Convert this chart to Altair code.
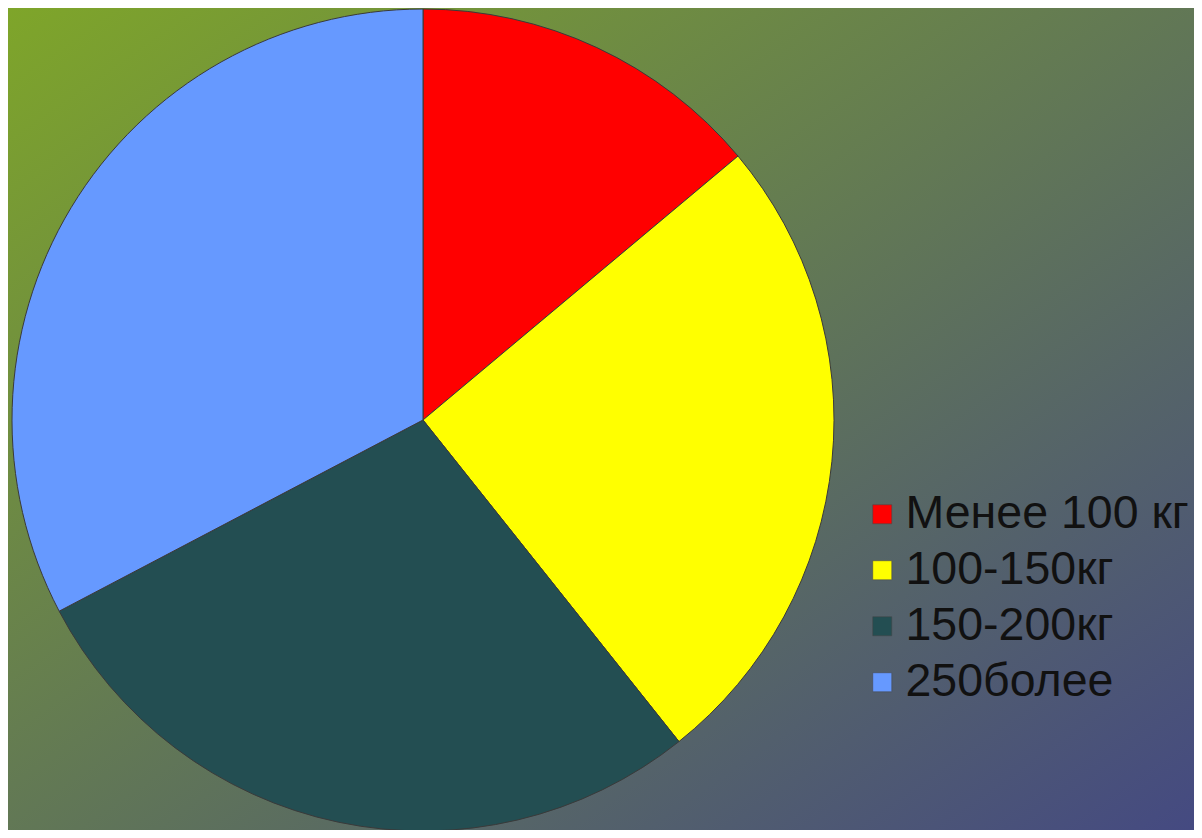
import altair as alt
import pandas as pd

categories = ["Менее 100 кг", "100-150кг", "150-200кг", "250более"]
values = [13.9, 25.4, 28.0, 32.7]
colors = ["#ff0000", "#ffff00", "#234e52", "#6699ff"]

W, H = 1186, 822

df = pd.DataFrame({"cat": categories, "value": values, "idx": list(range(len(categories)))})
bg = pd.DataFrame({"a": [0]})

background = alt.Chart(bg).mark_rect(
    color=alt.Gradient(
        gradient="linear",
        x1=0, y1=0, x2=1, y2=1,
        stops=[alt.GradientStop(color="#7fa629", offset=0),
               alt.GradientStop(color="#444982", offset=1)],
    )
).encode(x=alt.value(-8), x2=alt.value(W + 8), y=alt.value(-8), y2=alt.value(H + 8))

pie = alt.Chart(df).mark_arc(radius=411, stroke="#3a3a3a", strokeWidth=1).encode(
    theta=alt.Theta("value:Q", stack=True),
    color=alt.Color(
        "cat:N",
        scale=alt.Scale(domain=categories, range=colors),
        sort=categories,
        legend=alt.Legend(
            title=None,
            orient="none",
            legendX=851,
            legendY=483,
            symbolType="square",
            symbolSize=361,
            symbolStrokeColor="#444",
            symbolStrokeWidth=0.5,
            labelFont="Liberation Sans",
            labelFontSize=46.5,
            labelColor="#111111",
            labelOffset=0,
            labelLimit=400,
            rowPadding=9,
        ),
    ),
    order=alt.Order("idx:Q"),
    x=alt.value(415),
    y=alt.value(412),
)

chart = alt.layer(background, pie).properties(
    width=W, height=H,
    autosize=alt.AutoSizeParams(type="none"),
    padding=0,
).configure_view(stroke=None)

chart.save("out.html", embed_options={"renderer": "svg", "actions": False})
